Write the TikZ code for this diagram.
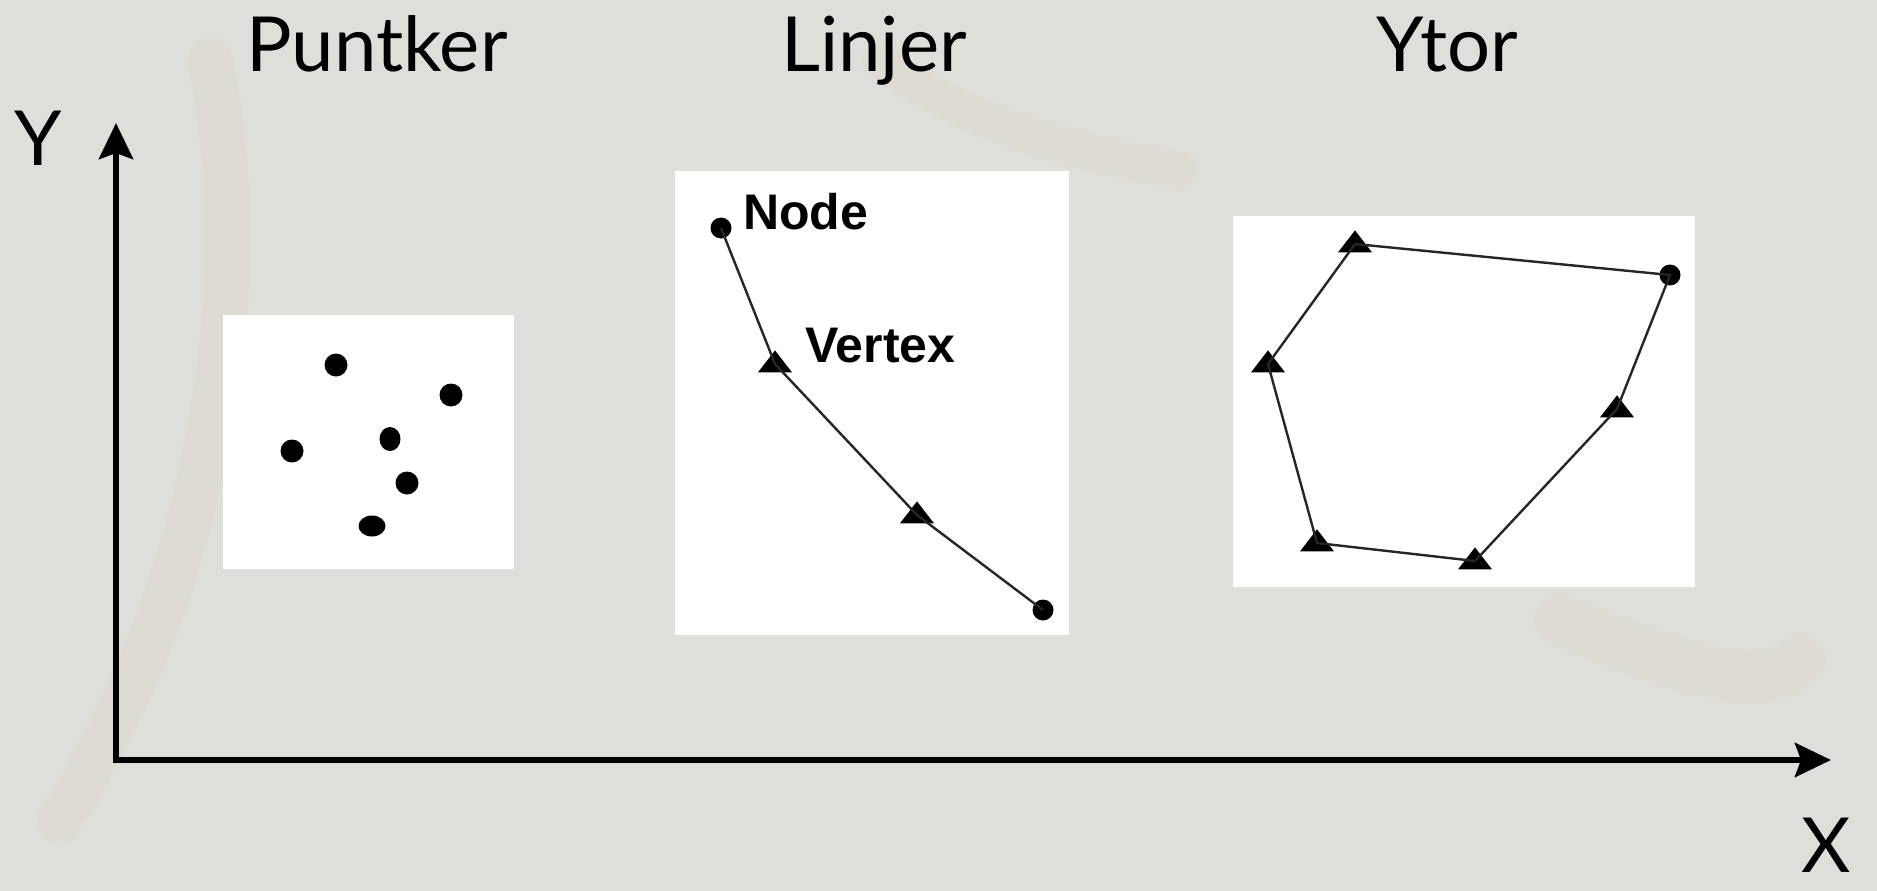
\documentclass[tikz,border=0pt]{standalone}
\usepackage{fontspec}
\setmainfont{Lato}
\newfontfamily\arialfont{Liberation Sans}
\usetikzlibrary{shapes.geometric,arrows.meta,positioning}
\definecolor{slide}{RGB}{222,223,218}
\definecolor{stain}{RGB}{226,204,160}
\tikzstyle{title} = [anchor=base, inner sep=0, font=\fontsize{76}{80}\selectfont]
\tikzstyle{panel} = [rectangle, anchor=north west, inner sep=0, fill=white]
\tikzstyle{dot} = [circle, fill=black, inner sep=0, minimum size=23pt]
\tikzstyle{tri} = [isosceles triangle, isosceles triangle stretches, shape border rotate=90, fill=black, inner sep=0, minimum width=34pt, minimum height=22pt]
\tikzstyle{edge} = [line width=2.4pt, black!85]
\tikzstyle{axis} = [line width=6.5pt, -{Stealth[length=36pt, width=34pt, inset=6pt]}]
\tikzstyle{tag} = [anchor=base west, inner sep=0, font=\arialfont\bfseries\fontsize{50}{52}\selectfont]

\begin{document}
\begin{tikzpicture}[x=1pt, y=-1pt]
\fill[slide] (0,0) rectangle (1877,891);
\useasboundingbox (0,0) rectangle (1877,891);
% faint stains on the slide
\draw[stain, opacity=0.12, line width=45pt, line cap=round] (60,820) .. controls (200,600) and (260,300) .. (210,60);
\draw[stain, opacity=0.12, line width=35pt, line cap=round] (880,60) .. controls (950,120) and (1100,160) .. (1180,170);
\draw[stain, opacity=0.12, line width=50pt, line cap=round] (1560,620) .. controls (1660,660) and (1760,700) .. (1800,660);
% Draw titles
\node (Puntker) [title] at (377,72) {Puntker};
\node (Linjer) [title] at (874,72) {Linjer};
\node (Ytor) [title] at (1447,72) {Ytor};
% Draw axes
\coordinate (O) at (116,760);
\coordinate (Y_tip) at (116,123);
\coordinate (X_tip) at (1831,760);
\draw [axis] ([yshift=3.25pt]O) -- (Y_tip);
\draw [axis] ([xshift=-3.25pt]O) -- (X_tip);
\node (Y_label) [title] at (38,165) {Y};
\node (X_label) [title] at (1826,872) {X};
% Draw panels
\node (box_points) [panel, minimum width=291pt, minimum height=254pt] at (223,315) {};
\node (box_lines) [panel, minimum width=394pt, minimum height=464pt] at (675,171) {};
\node (box_areas) [panel, minimum width=462pt, minimum height=371pt] at (1233,216) {};
% points
\node (p_1) [dot] at (336,365) {};
\node (p_2) [dot] at (451,395) {};
\node (p_3) [dot, minimum width=21pt, minimum height=24pt, ellipse] at (390,439) {};
\node (p_4) [dot] at (292,451) {};
\node (p_5) [dot] at (407,483) {};
\node (p_6) [dot, ellipse, minimum width=27pt, minimum height=21pt] at (372,526) {};
% lines
\node (l_node_1) [dot, minimum size=21pt] at (721,228) {};
\node (l_vertex_1) [tri] at (775,364) {};
\node (l_vertex_2) [tri] at (917,515) {};
\node (l_node_2) [dot, minimum size=21pt] at (1043,610) {};
\node (Node) [tag] at (743,229) {Node};
\node (Vertex) [tag] at (805,362) {Vertex};
\draw [edge] (l_node_1.center) -- (l_vertex_1.center) -- (l_vertex_2.center) -- (l_node_2.center);
% areas
\node (a_vertex_1) [tri] at (1355,244) {};
\node (a_node_1) [dot, minimum size=21pt] at (1670,275) {};
\node (a_vertex_2) [tri] at (1617,409) {};
\node (a_vertex_3) [tri] at (1475,561) {};
\node (a_vertex_4) [tri] at (1317,543) {};
\node (a_vertex_5) [tri] at (1268,364) {};
\draw [edge] (a_vertex_1.center) -- (a_node_1.center) -- (a_vertex_2.center) -- (a_vertex_3.center) -- (a_vertex_4.center) -- (a_vertex_5.center) -- cycle;
\end{tikzpicture}
\end{document}
